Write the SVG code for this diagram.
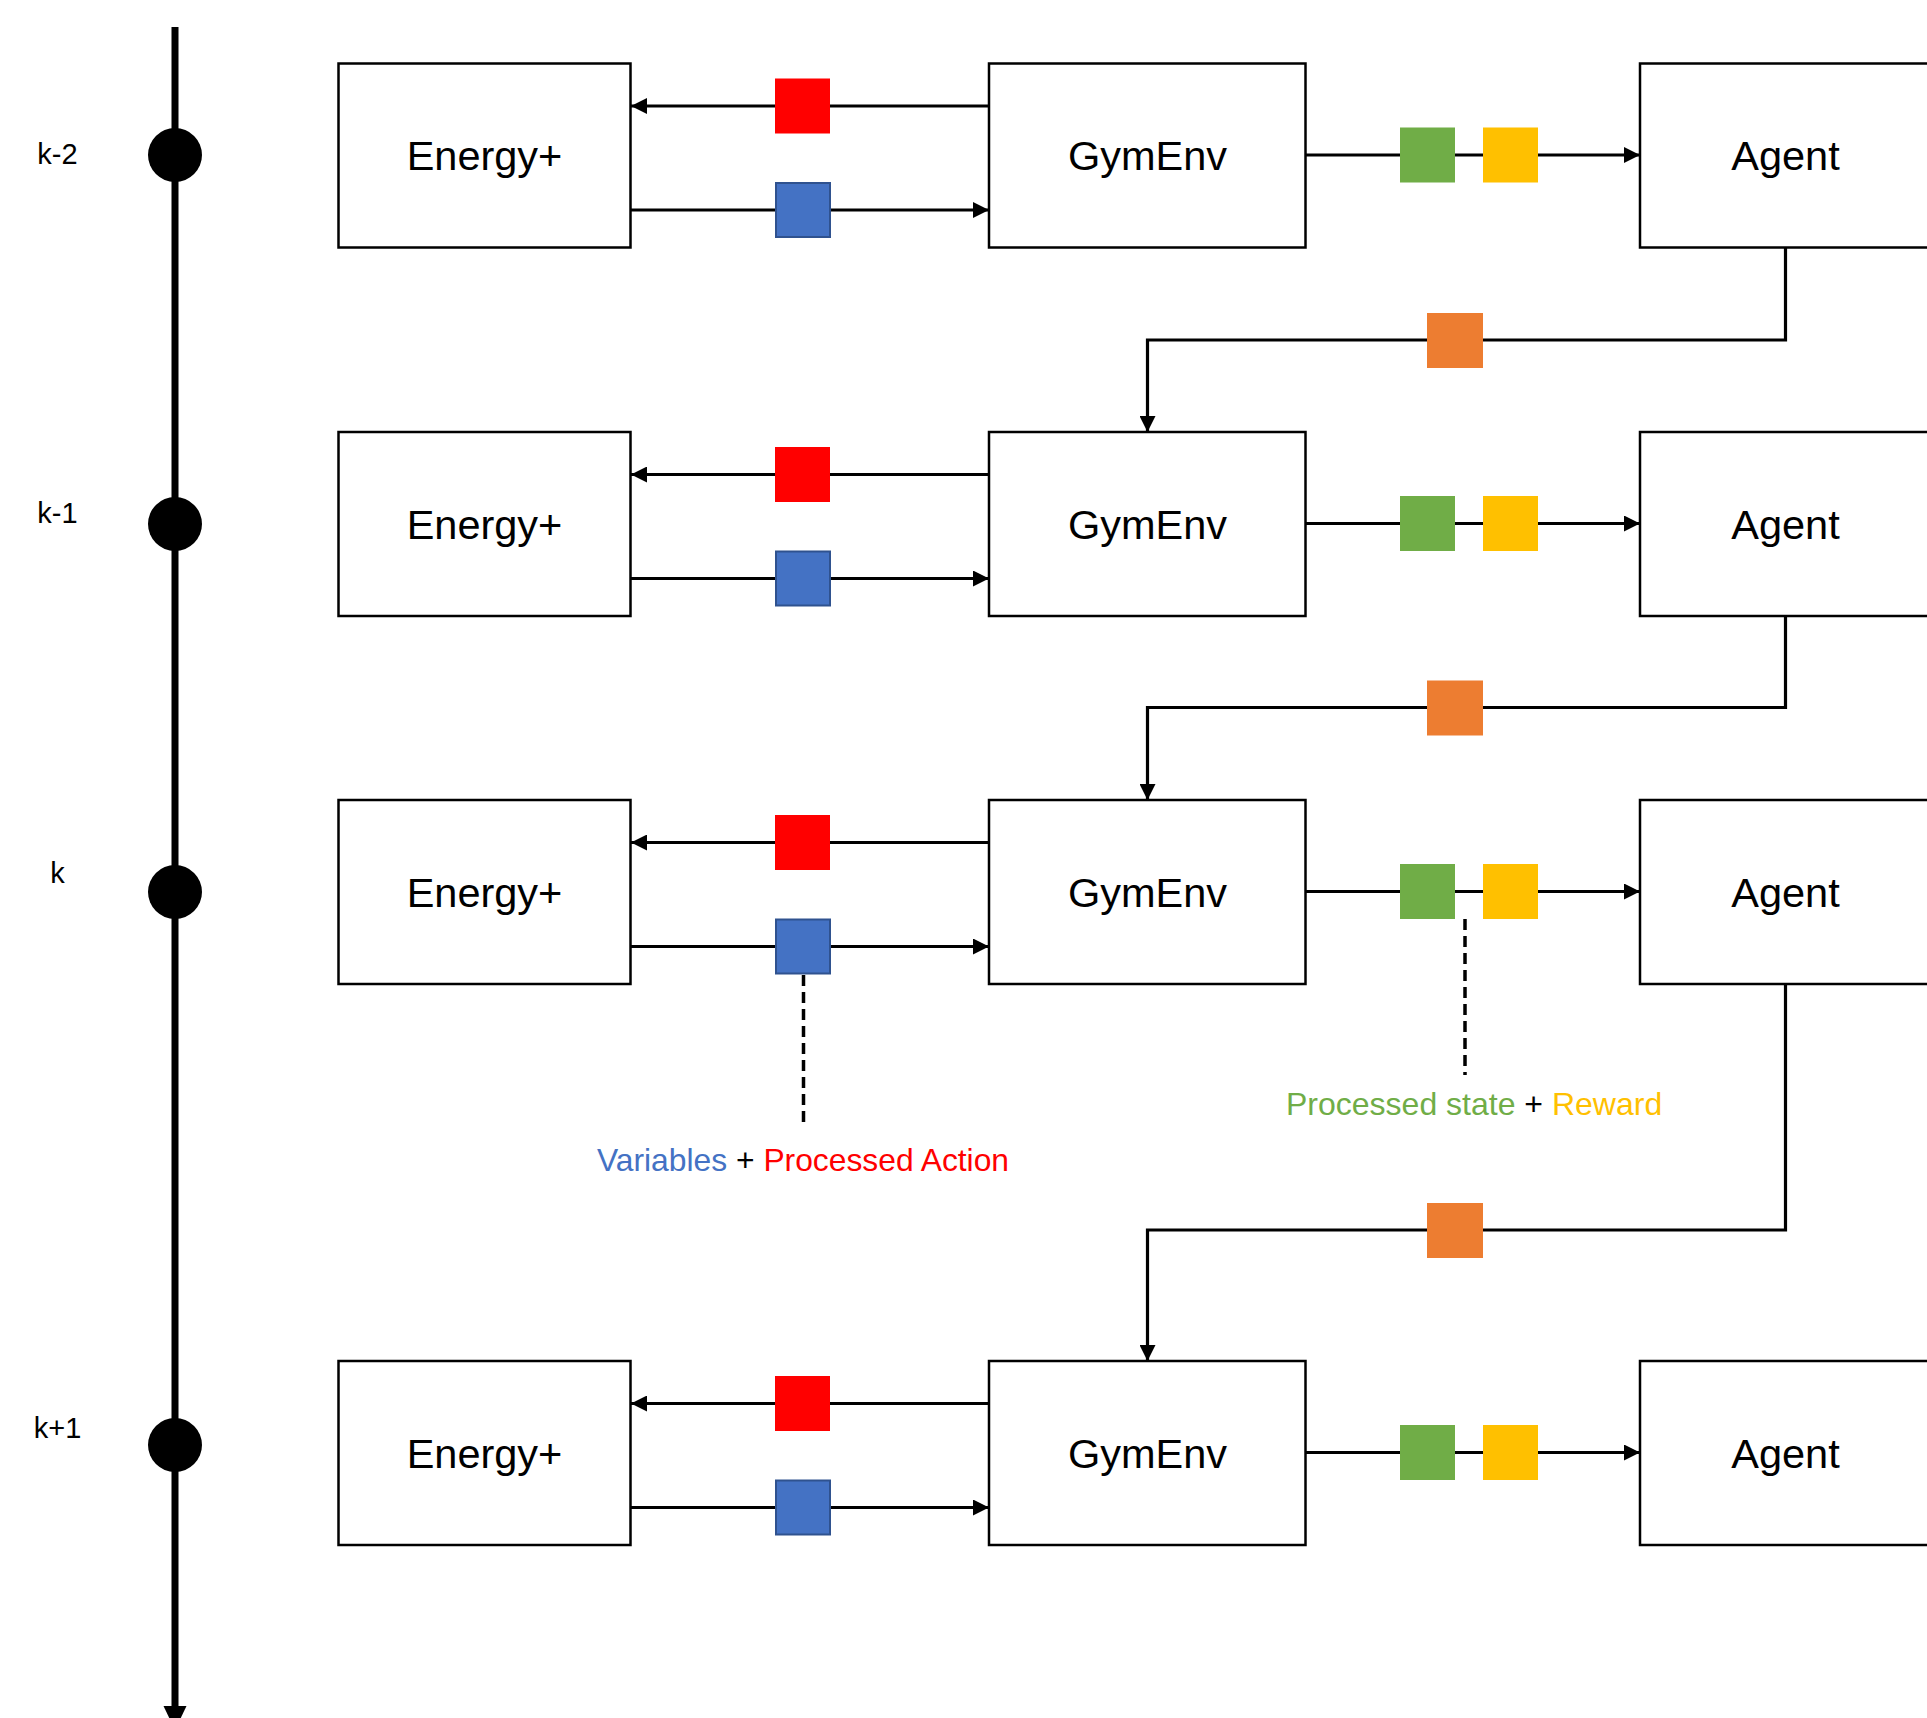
<svg xmlns="http://www.w3.org/2000/svg" width="1927" height="1718" viewBox="0 0 1927 1718">
<style>
.box{fill:#fff;stroke:#000;stroke-width:2.5}
.bt{font-family:"Liberation Sans",Arial,sans-serif;font-size:41.5px;fill:#000;text-anchor:middle}
.lbl{font-family:"Liberation Sans",Arial,sans-serif;font-size:29px;fill:#000;text-anchor:middle}
.ln{fill:none;stroke:#000;stroke-width:3.2}
.dash{fill:none;stroke:#000;stroke-width:3.5;stroke-dasharray:11 6}
.red{fill:#FF0000}
.blue{fill:#4472C4;stroke:#2F528F;stroke-width:2}
.green{fill:#70AD47}
.yellow{fill:#FFC000}
.orange{fill:#ED7D31}
.ann{font-family:"Liberation Sans",Arial,sans-serif}
</style>
<defs>
<marker id="arr" markerUnits="userSpaceOnUse" markerWidth="16" markerHeight="16" refX="16" refY="8" orient="auto">
<path d="M0,0 L16,8 L0,16 z" fill="#000"/>
</marker>
</defs>
<rect width="1927" height="1718" fill="#fff"/>

<g id="timeline">
<line x1="175" y1="27" x2="175" y2="1710" stroke="#000" stroke-width="7"/>
<polygon points="163.5,1706 186.5,1706 175,1730" fill="#000"/>
<circle cx="175" cy="155" r="27" fill="#000"/>
<circle cx="175" cy="524" r="27" fill="#000"/>
<circle cx="175" cy="892" r="27" fill="#000"/>
<circle cx="175" cy="1445" r="27" fill="#000"/>
<text class="lbl" x="57.5" y="164">k-2</text>
<text class="lbl" x="57.5" y="523">k-1</text>
<text class="lbl" x="57.5" y="883">k</text>
<text class="lbl" x="57.5" y="1438">k+1</text>
</g>

<g id="connectors">
<path class="ln" d="M989,106 H631" marker-end="url(#arr)"/>
<path class="ln" d="M630,210 H989" marker-end="url(#arr)"/>
<path class="ln" d="M1305.5,155 H1640" marker-end="url(#arr)"/>
<path class="ln" d="M1785.5,247.5 V340 H1147.5 V432" marker-end="url(#arr)"/>

<path class="ln" d="M989,474.5 H631" marker-end="url(#arr)"/>
<path class="ln" d="M630,578.5 H989" marker-end="url(#arr)"/>
<path class="ln" d="M1305.5,523.5 H1640" marker-end="url(#arr)"/>
<path class="ln" d="M1785.5,616 V707.5 H1147.5 V800" marker-end="url(#arr)"/>

<path class="ln" d="M989,842.5 H631" marker-end="url(#arr)"/>
<path class="ln" d="M630,946.5 H989" marker-end="url(#arr)"/>
<path class="ln" d="M1305.5,891.5 H1640" marker-end="url(#arr)"/>
<path class="ln" d="M1785.5,984 V1230 H1147.5 V1361" marker-end="url(#arr)"/>

<path class="ln" d="M989,1403.5 H631" marker-end="url(#arr)"/>
<path class="ln" d="M630,1507.5 H989" marker-end="url(#arr)"/>
<path class="ln" d="M1305.5,1452.5 H1640" marker-end="url(#arr)"/>

<path class="dash" d="M803.5,975 V1128"/>
<path class="dash" d="M1465,919 V1075"/>
</g>

<g id="tokens">
<rect class="red" x="775" y="78.5" width="55" height="55"/>
<rect class="blue" x="776" y="183" width="54" height="54"/>
<rect class="green" x="1400" y="127.5" width="55" height="55"/>
<rect class="yellow" x="1483" y="127.5" width="55" height="55"/>
<rect class="orange" x="1427" y="313" width="56" height="55"/>

<rect class="red" x="775" y="447" width="55" height="55"/>
<rect class="blue" x="776" y="551.5" width="54" height="54"/>
<rect class="green" x="1400" y="496" width="55" height="55"/>
<rect class="yellow" x="1483" y="496" width="55" height="55"/>
<rect class="orange" x="1427" y="680.5" width="56" height="55"/>

<rect class="red" x="775" y="815" width="55" height="55"/>
<rect class="blue" x="776" y="919.5" width="54" height="54"/>
<rect class="green" x="1400" y="864" width="55" height="55"/>
<rect class="yellow" x="1483" y="864" width="55" height="55"/>
<rect class="orange" x="1427" y="1203" width="56" height="55"/>

<rect class="red" x="775" y="1376" width="55" height="55"/>
<rect class="blue" x="776" y="1480.5" width="54" height="54"/>
<rect class="green" x="1400" y="1425" width="55" height="55"/>
<rect class="yellow" x="1483" y="1425" width="55" height="55"/>
</g>

<g id="energy1"><rect class="box" x="338.5" y="63.5" width="292" height="184"/><text class="bt" x="484.5" y="170">Energy+</text></g>
<g id="gymenv1"><rect class="box" x="989" y="63.5" width="316.5" height="184"/><text class="bt" x="1147.5" y="170">GymEnv</text></g>
<g id="agent1"><rect class="box" x="1640" y="63.5" width="291" height="184"/><text class="bt" x="1785.5" y="170">Agent</text></g>

<g id="energy2"><rect class="box" x="338.5" y="432" width="292" height="184"/><text class="bt" x="484.5" y="538.5">Energy+</text></g>
<g id="gymenv2"><rect class="box" x="989" y="432" width="316.5" height="184"/><text class="bt" x="1147.5" y="538.5">GymEnv</text></g>
<g id="agent2"><rect class="box" x="1640" y="432" width="291" height="184"/><text class="bt" x="1785.5" y="538.5">Agent</text></g>

<g id="energy3"><rect class="box" x="338.5" y="800" width="292" height="184"/><text class="bt" x="484.5" y="906.5">Energy+</text></g>
<g id="gymenv3"><rect class="box" x="989" y="800" width="316.5" height="184"/><text class="bt" x="1147.5" y="906.5">GymEnv</text></g>
<g id="agent3"><rect class="box" x="1640" y="800" width="291" height="184"/><text class="bt" x="1785.5" y="906.5">Agent</text></g>

<g id="energy4"><rect class="box" x="338.5" y="1361" width="292" height="184"/><text class="bt" x="484.5" y="1467.5">Energy+</text></g>
<g id="gymenv4"><rect class="box" x="989" y="1361" width="316.5" height="184"/><text class="bt" x="1147.5" y="1467.5">GymEnv</text></g>
<g id="agent4"><rect class="box" x="1640" y="1361" width="291" height="184"/><text class="bt" x="1785.5" y="1467.5">Agent</text></g>

<g id="annotations">
<text class="ann" x="803" y="1171" font-size="31.8" text-anchor="middle"><tspan fill="#4472C4">Variables</tspan><tspan fill="#000"> + </tspan><tspan fill="#FF0000">Processed Action</tspan></text>
<text class="ann" x="1286" y="1115" font-size="32"><tspan fill="#70AD47">Processed state</tspan><tspan fill="#000"> + </tspan><tspan fill="#FFC000">Reward</tspan></text>
</g>
</svg>
